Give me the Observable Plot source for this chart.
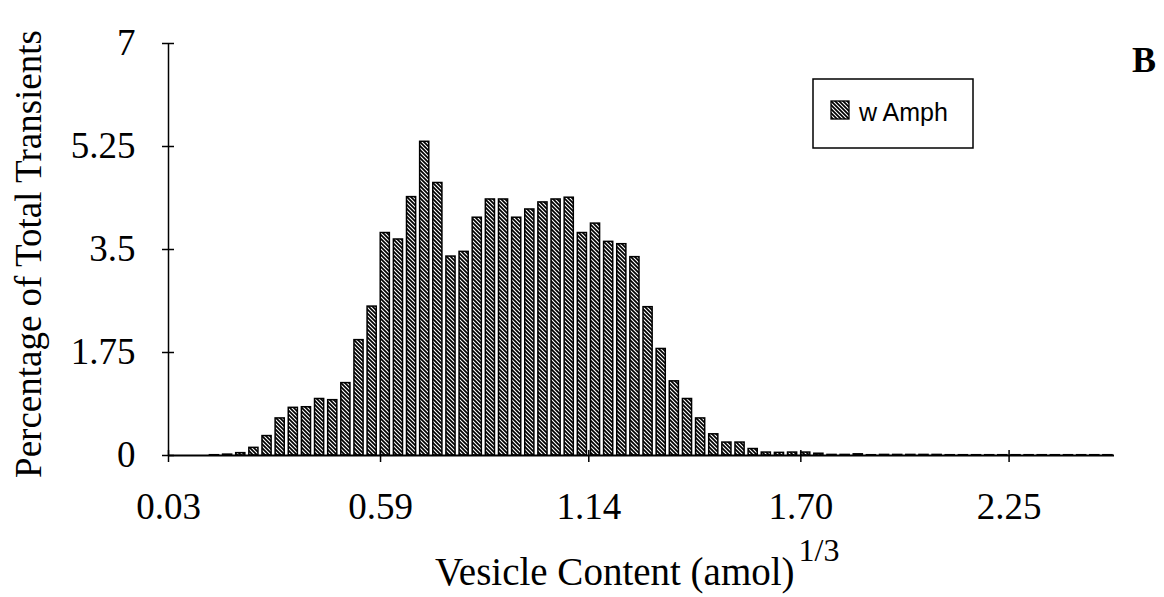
<!DOCTYPE html>
<html><head><meta charset="utf-8">
<script src="https://cdn.jsdelivr.net/npm/d3@7"></script>
<script src="https://cdn.jsdelivr.net/npm/@observablehq/plot@0.6"></script>
<style>body{margin:0;background:#fff;} svg{display:block}</style>
</head><body><div id="chart"></div>
<script>
// Histogram bins: start of first bin and width of every bin, in (amol)^1/3
const binStart = 0.03;
const binWidth = 0.0347;
// Percentage of total transients per bin
const percentages = [
  0, 0, 0, 0.005, 0.015, 0.04, 0.13, 0.33, 0.63, 0.81,
  0.82, 0.96, 0.94, 1.23, 1.96, 2.53, 3.78, 3.67, 4.39, 5.33,
  4.63, 3.38, 3.46, 4.04, 4.35, 4.35, 4.04, 4.18, 4.30, 4.35,
  4.38, 3.78, 3.94, 3.63, 3.59, 3.37, 2.52, 1.81, 1.26, 0.96,
  0.63, 0.36, 0.22, 0.22, 0.11, 0.05, 0.045, 0.05, 0.05, 0.03,
  0.01, 0.01, 0.02, 0.005, 0.01, 0.01, 0.01, 0.01, 0.01, 0.005,
  0.005, 0.005, 0.005, 0.005, 0.005, 0.005, 0.005, 0.005, 0.005, 0.005,
  0.005, 0.005
];
const xTicks = [0.03, 0.59, 1.14, 1.70, 2.25];
const yTicks = [0, 1.75, 3.5, 5.25, 7];
const seriesName = "w Amph";
const xLabel = "Vesicle Content (amol)";
const xLabelSup = "1/3";
const yLabel = "Percentage of Total Transients";
const panelLabel = "B";

const bins = percentages.map((v, i) => ({
  x1: binStart + i * binWidth,
  x2: binStart + (i + 1) * binWidth,
  y: v
}));

const serif = "'Liberation Serif', 'Times New Roman', serif";
const sans = "'Liberation Sans', Arial, sans-serif";

const chart = Plot.plot({
  width: 1164,
  height: 597,
  marginLeft: 168,
  marginRight: 50,
  marginTop: 43,
  marginBottom: 142,
  style: {fontFamily: serif, fontSize: "37px", background: "white", color: "black", overflow: "visible"},
  x: {domain: [binStart, binStart + percentages.length * binWidth]},
  y: {domain: [0, 7]},
  marks: [
    Plot.rectY(bins.filter(d => d.y > 0), {
      x1: "x1", x2: "x2", y: "y",
      insetLeft: 2, insetRight: 2,
      fill: "url(#hatch)", stroke: "black", strokeWidth: 1.5
    }),
    Plot.ruleY([0], {stroke: "black", strokeWidth: 2}),
    Plot.ruleX([binStart], {stroke: "black", strokeWidth: 1.5}),
    Plot.axisY(yTicks, {tickSize: 6, tickPadding: 27, tickFormat: d => String(d), label: null, fontSize: 37, strokeWidth: 1.5}),
    Plot.axisY(yTicks, {tickSize: -6, tickFormat: () => "", label: null, strokeWidth: 1.5}),
    Plot.axisX(xTicks, {tickSize: 7, tickPadding: 30, tickFormat: d => d.toFixed(2), label: null, fontSize: 37, strokeWidth: 1.5}),
    Plot.axisX(xTicks, {tickSize: -5, tickFormat: () => "", label: null, strokeWidth: 1.5})
  ]
});

const svg = d3.select(chart);
const defs = svg.insert("defs", ":first-child");
const pat = defs.append("pattern")
  .attr("id", "hatch")
  .attr("patternUnits", "userSpaceOnUse")
  .attr("width", 4).attr("height", 4);
pat.append("rect").attr("width", 4).attr("height", 4).attr("fill", "black");
pat.append("path")
  .attr("d", "M-1,-1L5,5M-1,3L1,5M3,-1L5,1")
  .attr("stroke", "white").attr("stroke-width", 1.1);

// Y axis title
svg.append("text")
  .attr("transform", "translate(41,254) rotate(-90)")
  .attr("text-anchor", "middle")
  .attr("font-family", serif).attr("font-size", 37)
  .attr("fill", "black")
  .text(yLabel);

// X axis title with superscript
const xt = svg.append("text")
  .attr("x", 435).attr("y", 585)
  .attr("text-anchor", "start")
  .attr("font-family", serif).attr("font-size", 39)
  .attr("fill", "black");
xt.append("tspan").text(xLabel);
xt.append("tspan").attr("dx", 4).attr("dy", -24).attr("font-size", 32).text(xLabelSup);

// Legend
const lg = svg.append("g");
lg.append("rect").attr("x", 813).attr("y", 79).attr("width", 160).attr("height", 69)
  .attr("fill", "white").attr("stroke", "black").attr("stroke-width", 1.5);
lg.append("rect").attr("x", 831).attr("y", 101).attr("width", 18).attr("height", 18)
  .attr("fill", "url(#hatch)").attr("stroke", "black").attr("stroke-width", 1.3);
lg.append("text").attr("x", 859).attr("y", 121)
  .attr("text-anchor", "start")
  .attr("font-family", sans).attr("font-size", 25).attr("fill", "black")
  .text(seriesName);

// Panel label
svg.append("text").attr("x", 1132).attr("y", 72)
  .attr("text-anchor", "start")
  .attr("font-family", serif).attr("font-size", 36).attr("font-weight", "bold")
  .attr("fill", "black").text(panelLabel);

document.getElementById("chart").appendChild(chart);
</script>
</body></html>
